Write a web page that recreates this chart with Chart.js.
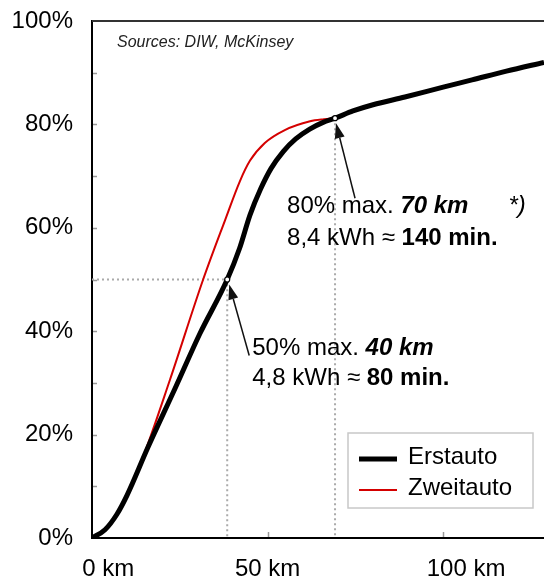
<!DOCTYPE html>
<html>
<head>
<meta charset="utf-8">
<style>
  html, body { margin: 0; padding: 0; background: #fff; }
  #wrap { width: 544px; height: 583px; }
</style>
<script src="https://cdn.jsdelivr.net/npm/chart.js@4.4.1/dist/chart.umd.min.js"></script>
</head>
<body>
<div id="wrap"><canvas id="chart"></canvas></div>
<script>
// Charging curve: battery share reached vs. range (km)
const erstKm   = [0, 3.7, 7.1, 10.0, 15.9, 23.9, 30.7, 38.5, 42.0, 45.0, 48.0, 51.0, 54.5, 58.0, 62.0, 65.8, 69.2, 74.3, 80.0, 89.1, 100.0, 108.2, 118.0, 128.7];
const erstPct  = [0, 1.6, 4.6, 8.3, 17.5, 29.3, 39.5, 50.0, 56.0, 62.5, 67.5, 71.5, 74.8, 77.2, 79.1, 80.4, 81.2, 82.6, 83.8, 85.3, 87.2, 88.6, 90.3, 92.0];
const zweitKm  = [0, 3.7, 7.1, 10.0, 14.2, 22.2, 31.6, 37.9, 42.1, 45.0, 49.2, 54.9, 62.1, 66.0, 69.2];
const zweitPct = [0, 1.6, 4.6, 8.3, 15.0, 30.6, 49.9, 61.5, 69.0, 73.0, 76.4, 78.9, 80.6, 81.0, 81.2];

// marked points (50% / 80%)
const markKm  = [38.5, 69.2];
const markPct = [50, 81.2];

const seriesNames = ['Erstauto', 'Zweitauto'];
const yMinorTicks = [10, 20, 30, 40, 50, 60, 70, 80, 90];
const xTickVals   = [0, 50, 100];
const xTickLabels = ['0 km', '50 km', '100 km'];

const FONT = "'Liberation Sans', Arial, sans-serif";

const toPoints = (xs, ys) => xs.map((x, i) => ({ x: x, y: ys[i] }));

const drawRich = (ctx, x, y, parts) => {
  let cx = x;
  parts.forEach(([text, style]) => {
    ctx.font = style + ' 24px ' + FONT;
    ctx.fillText(text, cx, y);
    cx += ctx.measureText(text).width;
  });
};

const drawArrow = (ctx, x1, y1, x2, y2) => {
  const ang = Math.atan2(y2 - y1, x2 - x1);
  const len = 15, half = 5;
  const bx = x2 - len * Math.cos(ang), by = y2 - len * Math.sin(ang);
  ctx.beginPath();
  ctx.moveTo(x1, y1);
  ctx.lineTo(bx, by);
  ctx.lineWidth = 1.5;
  ctx.strokeStyle = '#111';
  ctx.stroke();
  ctx.beginPath();
  ctx.moveTo(x2, y2);
  ctx.lineTo(bx + half * Math.sin(ang), by - half * Math.cos(ang));
  ctx.lineTo(bx - half * Math.sin(ang), by + half * Math.cos(ang));
  ctx.closePath();
  ctx.fillStyle = '#111';
  ctx.fill();
};

const overlay = {
  id: 'overlay',
  beforeDatasetsDraw(chart) {
    const { ctx, chartArea: a, scales: { x, y } } = chart;
    ctx.save();
    // top frame line
    ctx.strokeStyle = '#333';
    ctx.lineWidth = 2;
    ctx.beginPath();
    ctx.moveTo(a.left, a.top);
    ctx.lineTo(a.right, a.top);
    ctx.stroke();
    // small inside tick marks
    ctx.strokeStyle = '#999';
    ctx.lineWidth = 1.5;
    yMinorTicks.forEach(v => {
      const py = Math.round(y.getPixelForValue(v)) + 0.5;
      ctx.beginPath();
      ctx.moveTo(a.left + 1, py);
      ctx.lineTo(a.left + 5, py);
      ctx.stroke();
    });
    xTickVals.slice(1).forEach(v => {
      const px = Math.round(x.getPixelForValue(v)) + 0.5;
      ctx.beginPath();
      ctx.moveTo(px, a.bottom - 1);
      ctx.lineTo(px, a.bottom - 6);
      ctx.stroke();
    });
    ctx.restore();
  },
  afterDatasetsDraw(chart) {
    const { ctx, scales: { x, y } } = chart;
    ctx.save();
    ctx.textBaseline = 'middle';

    // sources note
    ctx.font = 'italic 16px ' + FONT;
    ctx.fillStyle = '#222';
    ctx.fillText('Sources: DIW, McKinsey', 117, 43);

    const m1 = { x: x.getPixelForValue(markKm[0]), y: y.getPixelForValue(markPct[0]) };
    const m2 = { x: x.getPixelForValue(markKm[1]), y: y.getPixelForValue(markPct[1]) };

    // arrows
    drawArrow(ctx, m1.x + 22, m1.y + 76, m1.x + 2, m1.y + 5);
    drawArrow(ctx, m2.x + 20, m2.y + 80, m2.x + 1, m2.y + 5);

    // small circles on the curve
    [m1, m2].forEach(m => {
      ctx.beginPath();
      ctx.arc(m.x, m.y, 2.5, 0, Math.PI * 2);
      ctx.fillStyle = '#fff';
      ctx.fill();
      ctx.lineWidth = 1.2;
      ctx.strokeStyle = '#000';
      ctx.stroke();
    });
    ctx.fillStyle = '#000';

    // annotation texts
    const t2x = m2.x - 48, t2y = m2.y + 88;
    drawRich(ctx, t2x, t2y, [['80% max. ', 'normal'], ['70 km', 'italic bold'], ['      *)', 'italic']]);
    drawRich(ctx, t2x, t2y + 32, [['8,4 kWh \u2248 ', 'normal'], ['140 min.', 'bold']]);
    const t1x = m1.x + 25, t1y = m1.y + 69;
    drawRich(ctx, t1x, t1y, [['50% max. ', 'normal'], ['40 km', 'italic bold']]);
    drawRich(ctx, t1x, t1y + 30, [['4,8 kWh \u2248 ', 'normal'], ['80 min.', 'bold']]);

    // legend box
    const lx = 348, ly = 433, lw = 185, lh = 75;
    ctx.fillStyle = '#fff';
    ctx.fillRect(lx, ly, lw, lh);
    ctx.strokeStyle = '#c8c8c8';
    ctx.lineWidth = 1.5;
    ctx.strokeRect(lx, ly, lw, lh);
    chart.data.datasets.slice(0, 2).forEach((ds, i) => {
      const rowY = ly + 26 + i * 31;
      ctx.beginPath();
      ctx.moveTo(lx + 11, rowY);
      ctx.lineTo(lx + 49, rowY);
      ctx.strokeStyle = ds.borderColor;
      ctx.lineWidth = ds.borderWidth;
      ctx.stroke();
      ctx.fillStyle = '#000';
      ctx.font = '24px ' + FONT;
      ctx.fillText(ds.label, lx + 60, rowY - 2);
    });
    ctx.restore();
  }
};

Chart.defaults.font.family = FONT;
Chart.defaults.color = '#000';
Chart.defaults.animation = false;

const guideStyle = {
  borderColor: '#aaa',
  borderWidth: 2,
  borderDash: [2, 3],
  pointRadius: 0,
  tension: 0
};

const noPad = (scale) => {
  scale.paddingTop = 0;
  scale.paddingBottom = 0;
  scale.paddingLeft = 0;
  scale.paddingRight = 0;
};

new Chart(document.getElementById('chart'), {
  type: 'line',
  data: {
    datasets: [
      {
        label: seriesNames[0],
        data: toPoints(erstKm, erstPct),
        borderColor: '#000',
        borderWidth: 5,
        pointRadius: 0,
        cubicInterpolationMode: 'monotone'
      },
      {
        label: seriesNames[1],
        data: toPoints(zweitKm, zweitPct),
        borderColor: '#d40000',
        borderWidth: 2,
        pointRadius: 0,
        cubicInterpolationMode: 'monotone'
      },
      {
        label: 'guide50',
        data: [{ x: 0, y: markPct[0] }, { x: markKm[0], y: markPct[0] }, { x: markKm[0], y: 0 }],
        ...guideStyle
      },
      {
        label: 'guide80',
        data: [{ x: markKm[1], y: markPct[1] }, { x: markKm[1], y: 0 }],
        ...guideStyle
      }
    ]
  },
  options: {
    responsive: true,
    maintainAspectRatio: false,
    events: [],
    layout: { padding: { top: 21, right: 0, left: 0, bottom: 0 } },
    scales: {
      x: {
        type: 'linear',
        min: 0,
        max: 128.7,
        grid: { display: false, drawTicks: false },
        border: { display: true, color: '#000', width: 2 },
        afterFit: (scale) => { scale.height = 45; noPad(scale); },
        // labels sit slightly right of their tick marks, as in the source
        afterBuildTicks: (scale) => {
          scale.ticks = [4.6, 50, 106.5].map(v => ({ value: v }));
        },
        ticks: {
          autoSkip: false,
          maxRotation: 0,
          padding: 17,
          font: { size: 24 },
          callback: (v, i) => xTickLabels[i]
        }
      },
      y: {
        min: 0,
        max: 100,
        grid: { display: false, drawTicks: false },
        border: { display: true, color: '#000', width: 2 },
        afterFit: (scale) => { scale.width = 92; noPad(scale); },
        ticks: {
          stepSize: 20,
          padding: 19,
          font: { size: 24 },
          callback: (v) => v + '%'
        }
      }
    },
    plugins: {
      legend: { display: false },
      tooltip: { enabled: false }
    }
  },
  plugins: [overlay]
});
</script>
</body>
</html>
